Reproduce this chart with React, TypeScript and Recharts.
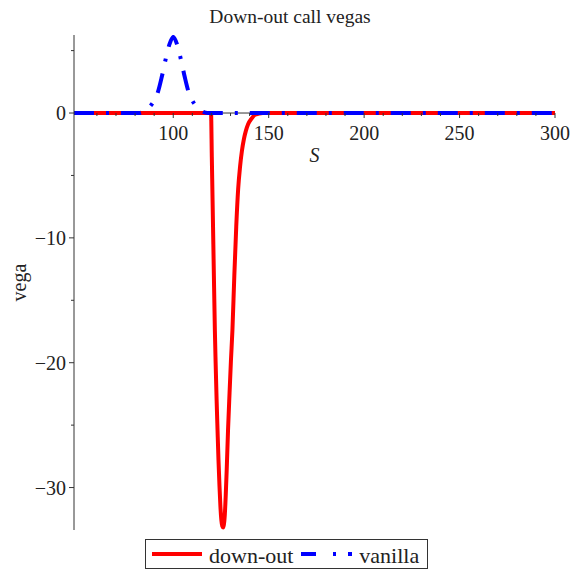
import React from "react";
import { LineChart, Line, XAxis, YAxis, ReferenceLine, ReferenceDot, Legend } from "recharts";

// down-out call vega
const downOutS = [
  48, 119.8, 120.2, 120.6, 121.0, 121.4, 121.8, 122.2, 122.7, 123.2, 123.7, 124.2, 124.7,
  125.2, 125.7, 126.1, 126.5, 127.0, 127.5, 128.0, 128.7, 129.5, 130.2, 131.0, 132.0, 133.0,
  134.0, 135.0, 136.0, 137.0, 138.0, 139.2, 141.0, 142.7, 145.0, 147.0, 300,
];
const downOutVega = [
  0, 0, -3.5, -7, -10.5, -14, -17.4, -20, -22.9, -25.4, -27.8, -29.8, -31.5,
  -32.6, -33.1, -33.2, -33.0, -32.2, -30.6, -28.6, -25.4, -22.4, -19.9, -17.4, -13.0, -9.1,
  -6.1, -4.3, -3.0, -2.1, -1.45, -0.9, -0.45, -0.15, -0.04, 0, 0,
];

// vanilla call vega
const vanillaS = [48, 82, 85, 88, 90, 92, 94, 96, 98, 100, 102, 104, 106, 108, 110, 112, 115, 118, 300];
const vanillaVega = [0, 0, 0.15, 0.55, 1.0, 1.7, 2.9, 4.3, 5.5, 6.1, 5.5, 4.3, 2.9, 1.7, 1.0, 0.55, 0.15, 0, 0];

const xMajorTicks = [100, 150, 200, 250, 300];
const xMinorTicks = [60, 70, 80, 90, 110, 120, 130, 140, 160, 170, 180, 190, 210, 220, 230, 240, 260, 270, 280, 290];
const yTicks = [5, 0, -5, -10, -15, -20, -25, -30];

const FONT = '"Liberation Serif", "Times New Roman", serif';
const TEXT = "#222";
const AXIS = "#333";
const RED = "#ff0000";
const BLUE = "#0000ff";
const BLUE_DASH = "20 12 3 12";

const downOutData = downOutS.map((s, i) => ({ s, vega: downOutVega[i] }));
const vanillaData = vanillaS.map((s, i) => ({ s, vega: vanillaVega[i] }));

const fmt = (v: number) => (v < 0 ? `\u2212${-v}` : `${v}`);

const xTickShape = (value: number, major: boolean) => (props: any) => {
  const { cx, cy } = props;
  return (
    <g>
      <line x1={cx} y1={cy} x2={cx} y2={cy + (major ? 5 : 3)} stroke={AXIS} strokeWidth={1} />
      {major && (
        <text x={cx} y={cy + 27} textAnchor="middle" fontSize={20} fontFamily={FONT} fill={TEXT}>
          {value}
        </text>
      )}
    </g>
  );
};

const YTick = (props: any) => {
  const { x, y, payload } = props;
  const v = payload.value;
  const major = v % 10 === 0;
  const axisX = x + 8;
  return (
    <g>
      <line x1={axisX - (major ? 5 : 3)} y1={y} x2={axisX} y2={y} stroke={AXIS} strokeWidth={1} />
      {major && (
        <text x={x} y={y} dy="0.35em" textAnchor="end" fontSize={20} fontFamily={FONT} fill={TEXT}>
          {fmt(v)}
        </text>
      )}
    </g>
  );
};

const LegendBox = () => (
  <div
    style={{
      display: "flex",
      alignItems: "center",
      border: "1px solid #333",
      background: "#fff",
      height: 30,
      padding: "0 6px",
      fontFamily: FONT,
      fontSize: 22,
      color: TEXT,
      boxSizing: "border-box",
      width: 283,
      whiteSpace: "nowrap",
    }}
  >
    <svg width={50} height={8} style={{ marginRight: 7, flexShrink: 0 }}>
      <line x1={0} y1={4} x2={50} y2={4} stroke={RED} strokeWidth={4} />
    </svg>
    <span style={{ marginRight: 8, paddingTop: 3, flexShrink: 0 }}>down-out</span>
    <svg width={51} height={8} style={{ marginRight: 7, flexShrink: 0 }}>
      <line x1={0} y1={4} x2={51} y2={4} stroke={BLUE} strokeWidth={4} strokeDasharray="15 17 3 12" />
    </svg>
    <span style={{ paddingTop: 3, flexShrink: 0 }}>vanilla</span>
  </div>
);

export default function App() {
  return (
    <div style={{ position: "absolute", left: 0, top: 0, width: 580, height: 570, background: "#fff" }}>
      <div
        style={{
          position: "absolute",
          top: 6,
          left: 0,
          width: 580,
          textAlign: "center",
          fontFamily: FONT,
          fontSize: 19.5,
          color: TEXT,
        }}
      >
        Down-out call vegas
      </div>
      <LineChart width={580} height={570} margin={{ top: 35, right: 25, bottom: 40, left: 0 }}>
        <XAxis type="number" dataKey="s" domain={[48, 300]} allowDataOverflow hide />
        <YAxis
          type="number"
          domain={[-33.4, 6.25]}
          allowDataOverflow
          ticks={yTicks}
          width={74}
          axisLine={{ stroke: AXIS, strokeWidth: 1 }}
          tickLine={false}
          tick={<YTick />}
          label={{
            value: "vega",
            angle: -90,
            position: "insideLeft",
            offset: 19,
            style: { fontFamily: FONT, fontSize: 20, fill: TEXT, textAnchor: "middle" },
          }}
        />
        <ReferenceLine
          y={0}
          stroke={AXIS}
          strokeWidth={1}
          label={{
            value: "S",
            position: "bottom",
            offset: 35,
            style: { fontFamily: FONT, fontSize: 20, fontStyle: "italic", fill: TEXT },
          }}
        />
        {xMinorTicks.map((t) => (
          <ReferenceDot key={`m${t}`} x={t} y={0} r={1} ifOverflow="visible" shape={xTickShape(t, false)} />
        ))}
        {xMajorTicks.map((t) => (
          <ReferenceDot key={`M${t}`} x={t} y={0} r={1} ifOverflow="visible" shape={xTickShape(t, true)} />
        ))}
        <Line
          data={downOutData}
          dataKey="vega"
          name="down-out"
          type="monotone"
          stroke={RED}
          strokeWidth={4}
          dot={false}
          isAnimationActive={false}
        />
        <Line
          data={vanillaData}
          dataKey="vega"
          name="vanilla"
          type="monotone"
          stroke={BLUE}
          strokeWidth={4}
          strokeDasharray={BLUE_DASH}
          dot={false}
          isAnimationActive={false}
        />
        <Legend
          layout="horizontal"
          verticalAlign="middle"
          align="center"
          content={() => <LegendBox />}
          wrapperStyle={{ left: 145, top: 539, width: 283, height: 30 }}
        />
      </LineChart>
    </div>
  );
}
